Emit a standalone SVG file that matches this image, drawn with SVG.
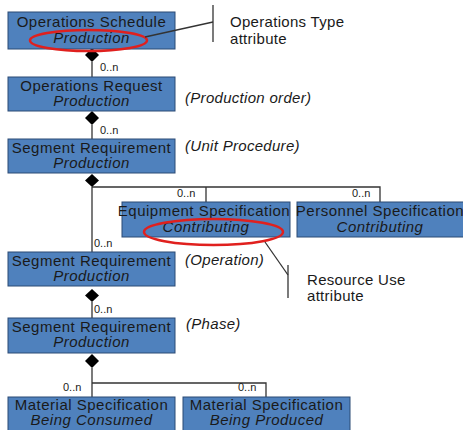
<svg xmlns="http://www.w3.org/2000/svg" width="463" height="430" viewBox="0 0 463 430">
<style>
.box{fill:#4F81BD;stroke:#2B4A75;stroke-width:1}
.t{font-family:"Liberation Sans",Arial,sans-serif;font-size:15px;fill:#1a1a1a;text-anchor:middle;letter-spacing:0.5px}
.i{font-style:italic}
.ann{font-family:"Liberation Sans",Arial,sans-serif;font-size:15px;fill:#1a1a1a;letter-spacing:0.3px}
.m{font-family:"Liberation Sans",Arial,sans-serif;font-size:11px;fill:#1a1a1a}
.c{stroke:#333;stroke-width:1.3;fill:none}
.d{fill:#000}
.red{fill:none;stroke:#E0201E;stroke-width:2.5}
.tick{stroke:#333;stroke-width:1.3;fill:none}
</style>
<rect width="463" height="430" fill="#fff"/>
<g id="connectors">
<line class="c" x1="92" y1="62" x2="92" y2="77"/>
<line class="c" x1="92" y1="125" x2="92" y2="139"/>
<line class="c" x1="92" y1="187" x2="92" y2="252"/>
<polyline class="c" points="92,187 380,187 380,202"/>
<line class="c" x1="206" y1="187" x2="206" y2="202"/>
<line class="c" x1="92" y1="302" x2="92" y2="318"/>
<line class="c" x1="92" y1="368" x2="92" y2="397"/>
<polyline class="c" points="92,383 266,383 266,397"/>
<polygon class="d" points="92,48 99,55 92,62 85,55"/>
<polygon class="d" points="92,111 99,118 92,125 85,118"/>
<polygon class="d" points="92,174 99,180.5 92,187 85,180.5"/>
<polygon class="d" points="92,289 99,295.5 92,302 85,295.5"/>
<polygon class="d" points="92,354 99,361 92,368 85,361"/>
<text class="m" x="100" y="71">0..n</text>
<text class="m" x="100" y="134">0..n</text>
<text class="m" x="177" y="197">0..n</text>
<text class="m" x="352" y="197">0..n</text>
<text class="m" x="94" y="247">0..n</text>
<text class="m" x="94" y="313">0..n</text>
<text class="m" x="63" y="391">0..n</text>
<text class="m" x="238" y="391">0..n</text>
</g>
<g id="ops-schedule">
<rect class="box" x="8" y="12" width="167" height="37"/>
<text class="t" x="91.5" y="27">Operations Schedule</text>
<text class="t i" x="91.5" y="43">Production</text>
</g>
<g id="ops-request">
<rect class="box" x="8" y="77" width="167" height="34"/>
<text class="t" x="91.5" y="91">Operations Request</text>
<text class="t i" x="91.5" y="106">Production</text>
</g>
<g id="seg-req-1">
<rect class="box" x="8" y="139" width="167" height="34"/>
<text class="t" x="91.5" y="153">Segment Requirement</text>
<text class="t i" x="91.5" y="168">Production</text>
</g>
<g id="equip-spec">
<rect class="box" x="122" y="202" width="168" height="35"/>
<text class="t" x="204" y="216">Equipment Specification</text>
<text class="t i" x="206" y="232">Contributing</text>
</g>
<g id="pers-spec">
<rect class="box" x="297" y="202" width="170" height="35"/>
<text class="t" x="380" y="216">Personnel Specification</text>
<text class="t i" x="380" y="232">Contributing</text>
</g>
<g id="seg-req-2">
<rect class="box" x="8" y="252" width="167" height="34"/>
<text class="t" x="91.5" y="266">Segment Requirement</text>
<text class="t i" x="91.5" y="281">Production</text>
</g>
<g id="seg-req-3">
<rect class="box" x="8" y="318" width="167" height="35"/>
<text class="t" x="91.5" y="332">Segment Requirement</text>
<text class="t i" x="91.5" y="347">Production</text>
</g>
<g id="mat-consumed">
<rect class="box" x="8" y="397" width="167" height="36"/>
<text class="t" x="91.5" y="410">Material Specification</text>
<text class="t i" x="91.5" y="425">Being Consumed</text>
</g>
<g id="mat-produced">
<rect class="box" x="183" y="397" width="167" height="36"/>
<text class="t" x="266.5" y="410">Material Specification</text>
<text class="t i" x="266.5" y="425">Being Produced</text>
</g>
<g id="labels">
<text class="ann i" x="185" y="103">(Production order)</text>
<text class="ann i" x="185" y="151">(Unit Procedure)</text>
<text class="ann i" x="185" y="265">(Operation)</text>
<text class="ann i" x="186" y="329">(Phase)</text>
</g>
<g id="ops-type-note">
<ellipse class="red" cx="88.5" cy="40.5" rx="58.5" ry="10.5"/>
<line class="tick" x1="145" y1="37" x2="213" y2="22"/>
<line class="tick" x1="213" y1="5" x2="213" y2="42"/>
<text class="ann" x="230" y="27">Operations Type</text>
<text class="ann" x="230" y="44">attribute</text>
</g>
<g id="resource-use-note">
<ellipse class="red" cx="213.5" cy="232" rx="69.5" ry="13"/>
<line class="tick" x1="265" y1="242" x2="288" y2="275"/>
<line class="tick" x1="288" y1="265" x2="288" y2="298"/>
<text class="ann" x="307" y="285">Resource Use</text>
<text class="ann" x="307" y="301">attribute</text>
</g>
</svg>
